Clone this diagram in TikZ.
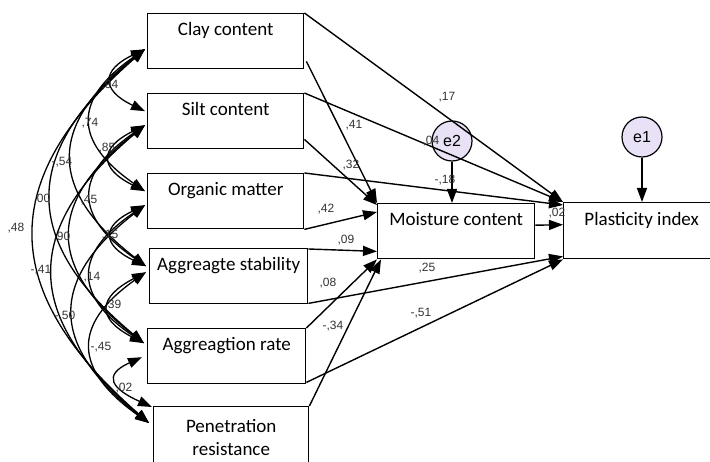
\documentclass[tikz,border=0pt]{standalone}
\usepackage{fontspec}
\setmainfont{Carlito}
\newfontfamily\valfont{Liberation Sans}
\usetikzlibrary{arrows.meta,calc}
\definecolor{errfill}{RGB}{233,225,246}

\begin{document}
\begin{tikzpicture}[x=1pt,y=-1pt,
    box/.style={draw, line width=1.4pt, rectangle, anchor=north west, inner sep=0pt,
      minimum width=156pt, minimum height=55pt, font=\fontsize{19}{23}\selectfont},
    varbox/.style={box, text height=13pt, text depth=24pt},
    errcirc/.style={circle, draw, line width=1.2pt, fill=errfill, inner sep=0pt,
      minimum size=40pt, font=\valfont\fontsize{16}{16}\selectfont},
    pathline/.style={line width=1.4pt, -{Triangle[length=14pt,width=10pt]}},
    covline/.style={line width=1.3pt, {Triangle[length=14pt,width=10pt]}-{Triangle[length=14pt,width=10pt]}},
    valtext/.style={inner sep=0pt, text=black!80, font=\valfont\fontsize{12}{12}\selectfont}]
   \useasboundingbox (0,0) rectangle (710,462);
   \node[varbox] (clay) at (147,13) {Clay content};
   \node[varbox] (silt) at (147,93) {Silt content};
   \node[varbox] (org) at (147,173) {Organic matter};
   \node[varbox, minimum width=158pt] (stab) at (149,248) {Aggreagte stability};
   \node[varbox, minimum width=158pt] (rate) at (147,328) {Aggreagtion rate};
   \node[box, minimum width=155pt, minimum height=62pt, align=center] (pen) at (153,406) {Penetration\\resistance};
   \node[varbox, minimum width=157pt] (mc) at (377,203) {Moisture content};
   \node[varbox, minimum height=56pt] (pi) at (563,202) {Plasticity index};
   \node[errcirc] (e2) at (452,141) {e2};
   \node[errcirc] (e1) at (642,137) {e1};
   \coordinate (c1) at ($(clay.west)+(-2,8)$);
   \coordinate (s0) at ($(silt.west)+(-2,-10)$);
   \coordinate (s1) at ($(silt.west)+(-2,4)$);
   \coordinate (o0) at ($(org.west)+(-2,-10)$);
   \coordinate (o1) at ($(org.west)+(-2,4)$);
   \coordinate (a0) at ($(stab.west)+(-3,-10)$);
   \coordinate (a1) at ($(stab.west)+(-3,-4)$);
   \coordinate (r0) at ($(rate.west)+(-3,-13)$);
   \coordinate (r1) at ($(rate.west)+(-5,1)$);
   \coordinate (p0) at ($(pen.north west)+(-1,1)$);
   \coordinate (p1) at ($(pen.north west)+(-4,17)$);
   \draw[covline] (c1) .. controls +(-44,21) and +(-44,-21) .. (s0);
   \draw[covline] (c1) .. controls +(-72,50) and +(-72,-50) .. (o0);
   \draw[covline] (c1) .. controls +(-98,76) and +(-98,-76) .. (a0);
   \draw[covline] (c1) .. controls +(-124,103) and +(-124,-103) .. (r0);
   \draw[covline] (c1) .. controls +(-150,131) and +(-150,-131) .. (p1);
   \draw[covline] (s1) .. controls +(-46,23) and +(-46,-23) .. (o0);
   \draw[covline] (s1) .. controls +(-72,50) and +(-72,-50) .. (a0);
   \draw[covline] (s1) .. controls +(-98,76) and +(-98,-76) .. (r0);
   \draw[covline] (s1) .. controls +(-125,105) and +(-125,-105) .. (p1);
   \draw[covline] (o1) .. controls +(-44,21) and +(-44,-21) .. (a0);
   \draw[covline] (o1) .. controls +(-71,48) and +(-71,-48) .. (r0);
   \draw[covline] (o1) .. controls +(-98,76) and +(-98,-76) .. (p1);
   \draw[covline] (a1) .. controls +(-48,25) and +(-48,-25) .. (r0);
   \draw[covline] (a1) .. controls +(-75,53) and +(-75,-53) .. (p1);
   \draw[covline] (r1) .. controls +(-40,18) and +(-40,-18) .. (p0);
   \draw[pathline] (clay.north east) to (pi.north west);
   \draw[pathline] ($(clay.south east)+(2,-8)$) to (mc.north west);
   \draw[pathline] (silt.north east) to (pi.north west);
   \draw[pathline] ($(silt.south east)+(0,-10)$) to ($(mc.north west)+(0,2)$);
   \draw[pathline] (org.north east) to ($(pi.north west)+(0,3)$);
   \draw[pathline] (org.south east) to ($(mc.north west)+(0,9)$);
   \draw[pathline] ($(stab.north east)+(0,1)$) to ($(mc.south west)+(0,-8)$);
   \draw[pathline] ($(stab.south east)+(0,-1)$) to ($(pi.south west)+(0,-3)$);
   \draw[pathline] (rate.north east) to (mc.south west);
   \draw[pathline] ($(rate.south east)+(0,-2)$) to (pi.south west);
   \draw[pathline] (pen.north east) to ($(mc.south west)+(4,0)$);
   \draw[pathline] ($(mc.east)+(0,-6)$) to ($(pi.west)+(0,-6)$);
   \draw[pathline] (e2) to (e2 |- mc.north);
   \draw[pathline] (e1) to (e1 |- pi.north);
   \node[valtext] (v1) at (110,85) {,94};
   \node[valtext] (v2) at (90,123) {,74};
   \node[valtext] (v3) at (62,162) {-,54};
   \node[valtext] (v4) at (42,199) {,00};
   \node[valtext] (v5) at (16,228) {,48};
   \node[valtext] (v6) at (107,148) {,85};
   \node[valtext] (v7) at (89,200) {,45};
   \node[valtext] (v8) at (62,237) {,90};
   \node[valtext] (v9) at (41,270) {-,41};
   \node[valtext] (v10) at (110,235) {,15};
   \node[valtext] (v11) at (92,277) {,14};
   \node[valtext] (v12) at (65,316) {-,50};
   \node[valtext] (v13) at (113,305) {,39};
   \node[valtext] (v14) at (101,347) {-,45};
   \node[valtext] (v15) at (124,388) {,02};
   \node[valtext] (w1) at (447,97) {,17};
   \node[valtext] (w2) at (354,125) {,41};
   \node[valtext] (w3) at (351,165) {,32};
   \node[valtext] (w4) at (431,141) {,04};
   \node[valtext] (w5) at (445,180) {-,18};
   \node[valtext] (w6) at (326,209) {,42};
   \node[valtext] (w7) at (346,240) {,09};
   \node[valtext] (w8) at (328,283) {,08};
   \node[valtext] (w9) at (333,326) {-,34};
   \node[valtext] (w10) at (427,268) {,25};
   \node[valtext] (w11) at (421,313) {-,51};
   \node[valtext] (w12) at (557,213) {,02};
 \end{tikzpicture}
\end{document}
